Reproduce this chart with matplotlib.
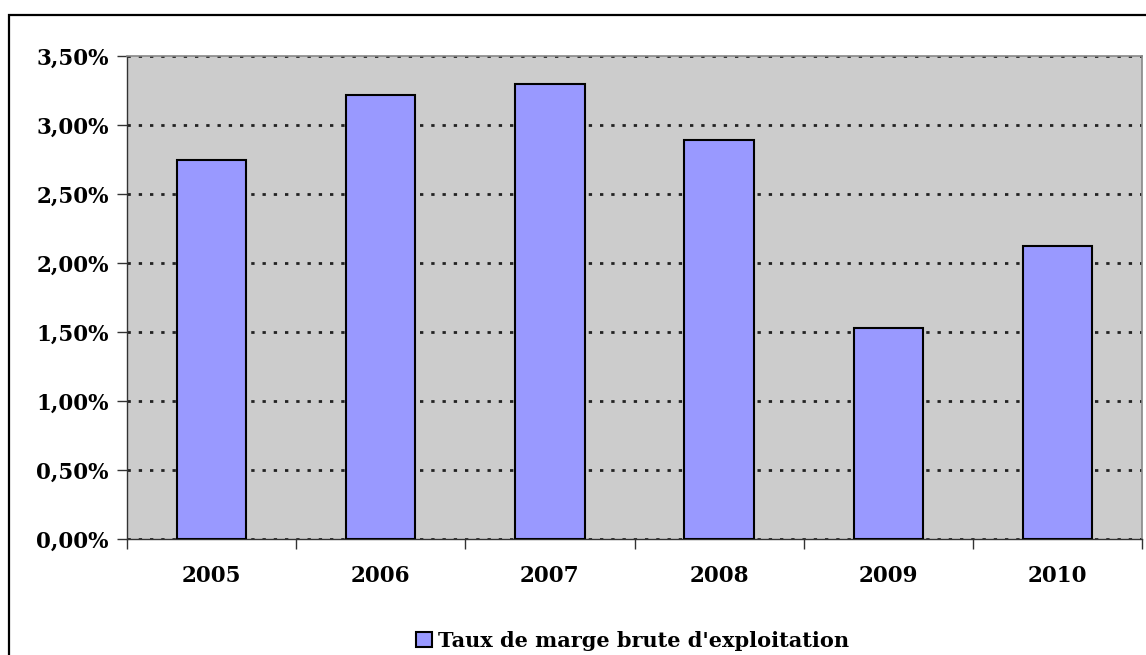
import matplotlib
matplotlib.use("Agg")
import matplotlib.pyplot as plt
from matplotlib.ticker import FuncFormatter, FixedLocator
from matplotlib.patches import Rectangle

years = ["2005", "2006", "2007", "2008", "2009", "2010"]
taux = [2.75, 3.22, 3.30, 2.89, 1.53, 2.12]
series_name = "Taux de marge brute d'exploitation"
yticks = [0.0, 0.5, 1.0, 1.5, 2.0, 2.5, 3.0, 3.5]

W, H = 1146, 655
fig = plt.figure(figsize=(W / 100, H / 100), dpi=100)
fig.patch.set_facecolor("white")

# outer chart frame
fig.patches.append(Rectangle((9 / W, -0.05), 1.2, (655 - 15) / H + 0.05,
                             transform=fig.transFigure, fill=False,
                             edgecolor="black", linewidth=1.6, zorder=0))

ax = fig.add_axes([127 / W, (655 - 539) / H, (1142 - 127) / W, (539 - 56) / H])
ax.set_facecolor("#CCCCCC")

x = list(range(len(years)))
ax.bar(x, taux, width=0.41, color="#9999FF", edgecolor="black", linewidth=1.5,
       zorder=3, label=series_name)

ax.set_xlim(-0.5, len(years) - 0.5)
ax.set_ylim(0, 3.5)
ax.set_yticks(yticks)
ax.yaxis.set_major_formatter(FuncFormatter(lambda v, p: f"{v:.2f}".replace(".", ",") + "%"))
ax.set_xticks(x)
ax.set_xticklabels(years)
ax.xaxis.set_minor_locator(FixedLocator([i - 0.5 for i in range(len(years) + 1)]))

ax.grid(axis="y", which="major", color="#222222", linestyle=(0, (1.2, 2.85)),
        linewidth=2.0, zorder=1)
ax.set_axisbelow(True)

for s in ["top", "right"]:
    ax.spines[s].set_color("#888888")
    ax.spines[s].set_linewidth(1.2)
for s in ["left", "bottom"]:
    ax.spines[s].set_color("#333333")
    ax.spines[s].set_linewidth(1.0)

ax.tick_params(axis="y", which="major", direction="out", length=7, width=1,
               color="#333333", pad=6)
ax.tick_params(axis="x", which="major", length=0, pad=19)
ax.tick_params(axis="x", which="minor", direction="out", length=7, width=1,
               color="#333333")

for lab in ax.get_yticklabels() + ax.get_xticklabels():
    lab.set_fontfamily("DejaVu Serif")
    lab.set_fontweight("bold")
    lab.set_fontsize(15.5)

leg = fig.legend(loc="center", bbox_to_anchor=(0.552, (655 - 641) / H),
                 frameon=False, prop=dict(family="DejaVu Serif", weight="bold", size=15),
                 handlelength=0.75, handleheight=0.75, handletextpad=0.3)

fig.savefig("out.png", dpi=100)
